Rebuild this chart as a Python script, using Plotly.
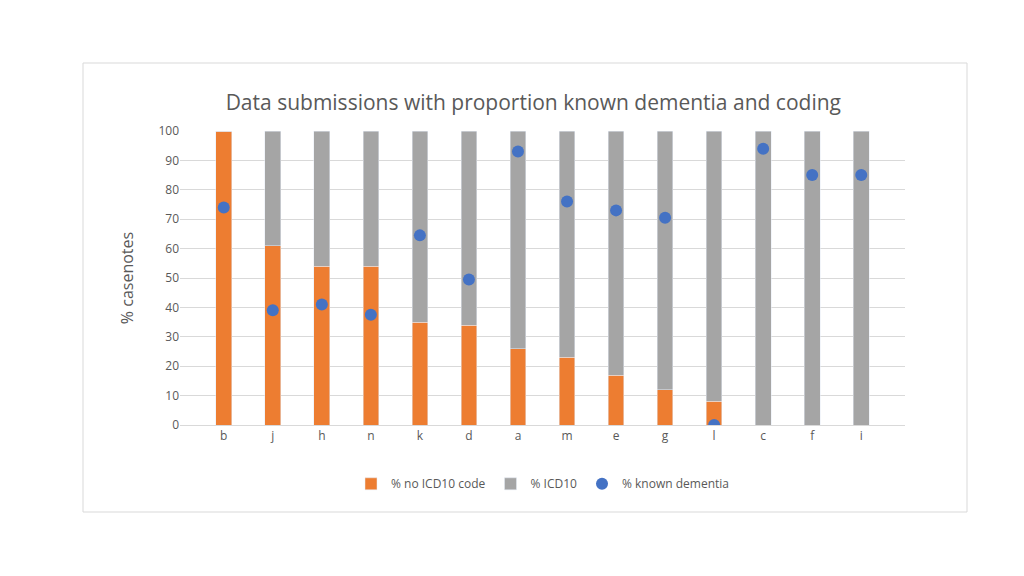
import plotly.graph_objects as go

categories = ["b","j","h","n","k","d","a","m","e","g","l","c","f","i"]
no_icd10 = [100,61,54,54,35,34,26,23,17,12,8,0,0,0]
icd10 = [0,39,46,46,65,66,74,77,83,88,92,100,100,100]
known_dementia = [74,39,41,37.5,64.5,49.5,93,76,73,70.5,0,94,85,85]

fig = go.Figure()
fig.add_bar(x=categories, y=no_icd10, name="% no ICD10 code", marker_color="#ED7D31", width=0.32)
fig.add_bar(x=categories, y=icd10, name="% ICD10", marker_color="#A5A5A5", width=0.32)
fig.add_scatter(x=categories, y=known_dementia, name="% known dementia", mode="markers",
                marker=dict(color="#4472C4", size=12))
fig.update_layout(
    barmode="stack", width=1024, height=576, paper_bgcolor="white", plot_bgcolor="white",
    margin=dict(l=172, r=127, t=123, b=159, autoexpand=False),
    font=dict(family="Open Sans", color="#595959", size=12),
    title=dict(text="Data submissions with proportion known dementia and coding",
               x=0.513, xanchor="center", y=0.835, yanchor="middle",
               font=dict(size=21, color="#595959")),
    yaxis=dict(range=[0,100], dtick=10, gridcolor="#D9D9D9", zeroline=False, automargin=False,
               title=dict(text="% casenotes", font=dict(size=16), standoff=20), ticks="", showline=False),
    xaxis=dict(showline=True, linecolor="#D9D9D9", ticks="", automargin=False),
    legend=dict(orientation="h", x=0.5, xanchor="center", y=-0.2, yanchor="middle",
                traceorder="normal", font=dict(size=12)),
    shapes=[dict(type="rect", xref="paper", yref="paper",
                 x0=(83-180)/725, x1=(967-180)/725, y0=(425-512)/294, y1=(425-63)/294,
                 line=dict(color="#D9D9D9", width=1))],
)
fig.write_html("out.html")
